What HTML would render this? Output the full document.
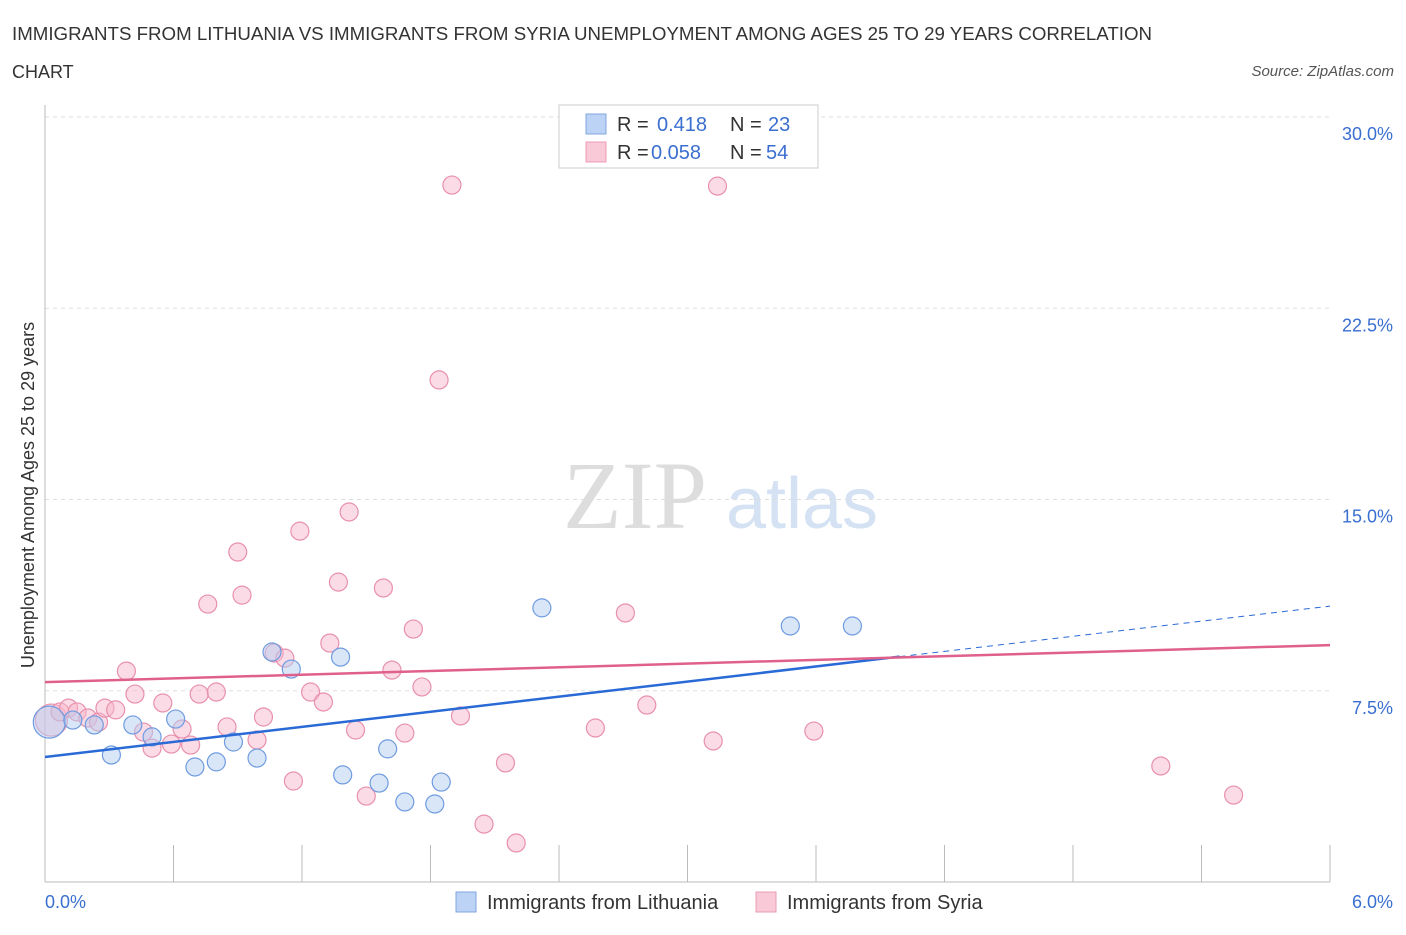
<!DOCTYPE html>
<html><head><meta charset="utf-8"><style>
body{margin:0;background:#fff;font-family:"Liberation Sans",sans-serif}
</style></head><body>
<svg id="c" width="1406" height="930" xmlns="http://www.w3.org/2000/svg" style="font-family:'Liberation Sans',sans-serif">
<text x="12" y="40" font-size="18" fill="#333" textLength="1140" lengthAdjust="spacingAndGlyphs">IMMIGRANTS FROM LITHUANIA VS IMMIGRANTS FROM SYRIA UNEMPLOYMENT AMONG AGES 25 TO 29 YEARS CORRELATION</text>
<text x="12" y="78" font-size="18" fill="#333">CHART</text>
<text x="1394" y="76" font-size="15" fill="#555" font-style="italic" text-anchor="end">Source: ZipAtlas.com</text>
<text x="635" y="528" font-size="96" fill="#ddd" font-family="Liberation Serif" text-anchor="middle">ZIP</text>
<text x="802" y="528" font-size="72" fill="#d4e2f4" text-anchor="middle">atlas</text>
<text transform="translate(34,495) rotate(-90)" font-size="18" fill="#333" text-anchor="middle">Unemployment Among Ages 25 to 29 years</text>
<g id="grid"></g><g id="pts"></g><g id="lines"></g>
<g>
<rect x="559" y="105" width="259" height="63" fill="#fff" stroke="#ccc"/>
<rect x="586" y="114" width="20" height="20" fill="#bdd3f5" stroke="#7fa6e0"/>
<rect x="586" y="142" width="20" height="20" fill="#f9c9d8" stroke="#ec9cb5"/>
<text x="617" y="131" font-size="20" fill="#333">R = <tspan fill="#3a6fd0" x="657">0.418</tspan><tspan x="730" fill="#333">N = </tspan><tspan fill="#3a6fd0" x="768">23</tspan></text>
<text x="617" y="159" font-size="20" fill="#333">R = <tspan fill="#3a6fd0" x="651">0.058</tspan><tspan x="730" fill="#333">N = </tspan><tspan fill="#3a6fd0" x="766">54</tspan></text>
</g>
<g>
<rect x="456" y="892" width="20" height="20" fill="#bdd3f5" stroke="#7fa6e0"/>
<text x="487" y="909" font-size="20" fill="#333">Immigrants from Lithuania</text>
<rect x="756" y="892" width="20" height="20" fill="#f9c9d8" stroke="#ec9cb5"/>
<text x="787" y="909" font-size="20" fill="#333">Immigrants from Syria</text>
</g>
</svg>
<script>
const xTicks=[0,6];
const yTicks=[7.5,15,22.5,30];
const lithX=[0.02,0.13,0.23,0.31,0.41,0.50,0.61,0.70,0.80,0.88,0.99,1.06,1.15,1.38,1.39,1.56,1.60,1.68,1.82,1.85,2.32,3.48,3.77];
const lithY=[6.27,6.35,6.16,4.98,6.16,5.69,6.39,4.51,4.71,5.49,4.86,9.02,8.35,8.82,4.20,3.88,5.22,3.14,3.06,3.92,10.75,10.04,10.04];
const syrX=[0.03,0.07,0.11,0.15,0.20,0.25,0.28,0.33,0.38,0.42,0.46,0.50,0.55,0.59,0.64,0.68,0.72,0.76,0.80,0.85,0.90,0.92,0.99,1.02,1.07,1.12,1.16,1.19,1.24,1.30,1.33,1.37,1.42,1.45,1.50,1.58,1.62,1.68,1.72,1.76,1.84,1.90,1.94,2.05,2.15,2.20,2.57,2.71,2.81,3.12,3.14,3.59,5.21,5.55];
const syrY=[6.35,6.67,6.82,6.67,6.43,6.27,6.82,6.75,8.27,7.37,5.88,5.25,7.02,5.41,6.00,5.37,7.37,10.90,7.45,6.08,12.94,11.25,5.57,6.47,8.98,8.78,3.96,13.76,7.45,7.06,9.37,11.76,14.51,5.96,3.37,11.53,8.31,5.84,9.92,7.65,19.69,27.33,6.51,2.27,4.67,1.53,6.04,10.55,6.94,5.53,27.29,5.92,4.55,3.41];
const lithTrend=[4.90,10.82];
const syrTrend=[7.84,9.29];
const NS="http://www.w3.org/2000/svg";
const X=v=>45+v/6*1285, Y=v=>882-v*25.5;
function mk(p,t,a){const e=document.createElementNS(NS,t);for(const k in a)e.setAttribute(k,a[k]);document.getElementById(p).appendChild(e);return e;}
const g='grid';
yTicks.forEach(v=>{let l=mk(g,'line',{x1:45,x2:1330,y1:Y(v),y2:Y(v),stroke:'#ddd','stroke-dasharray':'4,4'});


let t=mk(g,'text',{x:1393,y:Y(v)+23,'font-size':18,fill:'#3a6fd0','text-anchor':'end'});t.textContent=v.toFixed(1)+'%';

});
let ax=mk(g,'line',{x1:45,x2:1330,y1:882,y2:882,stroke:'#bbb'});


let ay=mk(g,'line',{x1:45,x2:45,y1:105,y2:882,stroke:'#bbb'});


for(let i=1;i<=10;i++){let tk=mk(g,'line',{x1:X(i*0.6),x2:X(i*0.6),y1:845,y2:882,stroke:'#bbb'});

}
xTicks.forEach((v,i)=>{let t=mk(g,'text',{x:i?1393:45,y:908,'font-size':18,fill:'#3a6fd0','text-anchor':i?'end':'start'});t.textContent=v.toFixed(1)+'%';

});
function pts(xs,ys,f,s,name){xs.forEach((x,i)=>{let c=mk('pts','circle',{cx:X(x),cy:Y(ys[i]),r:i==0?16:9,fill:f,'fill-opacity':0.5,stroke:s,'stroke-width':1.2});

});}
pts(syrX,syrY,'#f7b8cc','#e890ad','point-syria');
pts(lithX,lithY,'#b3cdf2','#6f9be0','point-lithuania');
const br=3.99, bm=lithTrend[0]+(lithTrend[1]-lithTrend[0])*br/6;
let l1=mk('lines','line',{x1:X(0),y1:Y(lithTrend[0]),x2:X(br),y2:Y(bm),stroke:'#2a6ad6','stroke-width':2.5});


let l2=mk('lines','line',{x1:X(br),y1:Y(bm),x2:X(6),y2:Y(lithTrend[1]),stroke:'#2a6ad6','stroke-width':1,'stroke-dasharray':'6,5'});


let l3=mk('lines','line',{x1:X(0),y1:Y(syrTrend[0]),x2:X(6),y2:Y(syrTrend[1]),stroke:'#e0608c','stroke-width':2.5});


</script>
</body></html>
